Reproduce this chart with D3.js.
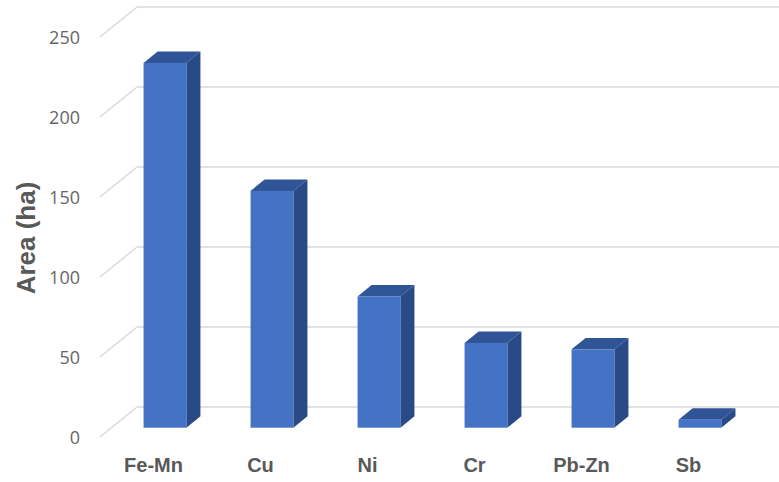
<!DOCTYPE html>
<html><head><meta charset="utf-8">
<script src="https://cdn.jsdelivr.net/npm/d3@7"></script>
<style>html,body{margin:0;padding:0;background:#fff;}svg{display:block;}</style>
</head><body>
<svg id="chart" width="779" height="482"></svg>
<script>
const categories = ["Fe-Mn", "Cu", "Ni", "Cr", "Pb-Zn", "Sb"];
const areaValues = [228, 148, 82, 53, 49, 5];
const tickValues = [0, 50, 100, 150, 200, 250];
const yLabel = "Area (ha)";

const svg = d3.select("#chart");
// back wall geometry
const x = d3.scaleBand().domain(categories).range([137, 779]).paddingInner(0.6).paddingOuter(0.3);
const y = d3.scaleLinear().domain([0, 250]).range([407, 7]);
const DX = 37, DY = 30; // full depth offset (front = back shifted left/down)
// project: xb in back-plane coords, value v, depth d (1 = back wall, 0 = front)
function P(xb, v, d) { return [xb - DX * (1 - d), y(v) + DY * (1 - d)]; }

// gridlines: diagonal on the side + horizontal on the back wall
const grid = svg.append("g");
tickValues.forEach(t => {
  const a = P(137, t, 0), b = P(137, t, 1);
  grid.append("line").attr("x1", a[0]).attr("y1", a[1]).attr("x2", b[0]).attr("y2", b[1])
    .attr("stroke", "#d9d9d9").attr("stroke-width", 1.3);
  grid.append("line").attr("x1", 137).attr("y1", y(t)).attr("x2", 779).attr("y2", y(t))
    .attr("stroke", "#d9d9d9").attr("stroke-width", 1.3);
});

// tick labels
svg.append("g").selectAll("text").data(tickValues).join("text")
  .attr("x", 80).attr("y", d => P(137, d, 0)[1])
  .attr("text-anchor", "end").attr("dominant-baseline", "central")
  .attr("font-family", "'Open Sans', sans-serif").attr("font-size", 18)
  .attr("fill", "#666666").text(d => d);

// bars
const d0 = 0.31, d1 = 0.69;
const bars = svg.append("g");
const data = categories.map((c, i) => ({ c, v: areaValues[i] }));
const pts = arr => arr.map(p => p.join(",")).join(" ");
data.forEach(o => {
  const xl = x(o.c), xr = x(o.c) + x.bandwidth();
  bars.append("polygon").attr("points", pts([P(xl, o.v, d0), P(xr, o.v, d0), P(xr, o.v, d1), P(xl, o.v, d1)]))
    .attr("fill", "#2f5597");
  bars.append("polygon").attr("points", pts([P(xr, 0, d0), P(xr, o.v, d0), P(xr, o.v, d1), P(xr, 0, d1)]))
    .attr("fill", "#284a86");
  const f0 = P(xl, o.v, d0), f1 = P(xr, 0, d0);
  bars.append("rect").attr("x", f0[0]).attr("y", f0[1]).attr("width", f1[0] - f0[0]).attr("height", f1[1] - f0[1])
    .attr("fill", "#4472c4");
});

// category labels
svg.append("g").selectAll("text").data(categories).join("text")
  .attr("x", d => x(d) + x.bandwidth() / 2 - DX)
  .attr("y", 465)
  .attr("text-anchor", "middle").attr("dominant-baseline", "central")
  .attr("font-family", "'Liberation Sans', Arial, sans-serif").attr("font-weight", "bold")
  .attr("font-size", 20).attr("fill", "#595959").text(d => d);

// y axis title
svg.append("text")
  .attr("transform", "translate(26,238) rotate(-90)")
  .attr("text-anchor", "middle").attr("dominant-baseline", "central")
  .attr("font-family", "'Liberation Sans', Arial, sans-serif").attr("font-weight", "bold")
  .attr("font-size", 26).attr("fill", "#595959").text(yLabel);
</script>
</body></html>
